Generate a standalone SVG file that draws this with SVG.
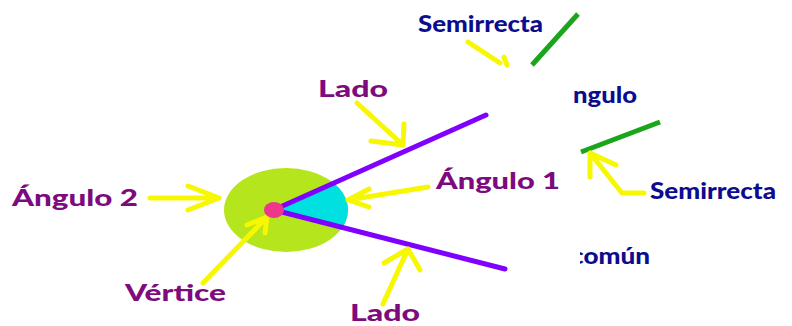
<svg xmlns="http://www.w3.org/2000/svg" width="792" height="326" viewBox="0 0 792 326">
<style>
.t{font-family:"Lato","Liberation Sans",sans-serif;font-weight:900;font-size:23px}
.p{fill:#7d0b7d}
.n{fill:#0c0c8f}
.y{fill:none;stroke:#f7f700;stroke-width:5;stroke-linecap:round;stroke-linejoin:round}
.g{fill:none;stroke:#1ba51b;stroke-width:5}
.v{fill:none;stroke:#8000ff;stroke-width:5;stroke-linecap:round}
</style>
<defs>
<clipPath id="cc"><rect x="580" y="230" width="100" height="50"/></clipPath>
</defs>
<rect width="792" height="326" fill="#fff"/>
<g id="angle">
<ellipse cx="286" cy="210" rx="62" ry="42" fill="#b5e51d"/>
<path d="M274,210 L334,183.3 A62,42 0 0 1 342.4,227.5 Z" fill="#00e0e0"/>
</g>
<g id="connectors">
<line class="v" x1="278" y1="208" x2="486" y2="115"/>
<line class="v" x1="278" y1="211" x2="505" y2="269"/>
<line class="g" x1="532" y1="65" x2="578" y2="14"/>
<line class="g" x1="581" y1="152" x2="660" y2="122"/>
<path class="y" d="M468,42 L500,63 M504,57 L507,65"/>
<path class="y" d="M357,103 L403,145 M404,124 L403,145 L371,141"/>
<path class="y" d="M428,187 L348,200 M369,189 L348,200 L369,207"/>
<path class="y" d="M150,198 L219,198 M188,186 L219,198 L188,210"/>
<path class="y" d="M203,283 L267,217 M247,225 L267,217 L265,233"/>
<path class="y" d="M383,304 L408,249 M384,263 L408,249 L420,270"/>
<path class="y" d="M644,193 L622,193 L590,153 M590,177 L590,153 L616,165"/>
</g>
<g id="vertex"><ellipse cx="274" cy="210" rx="10" ry="8" fill="#f0368c"/></g>
<g id="labels">
<text class="t n" x="418" y="32" textLength="125" lengthAdjust="spacingAndGlyphs">Semirrecta</text>
<text class="t n" x="573" y="103" textLength="64" lengthAdjust="spacingAndGlyphs">ngulo</text>
<text class="t p" x="318" y="97" textLength="70" lengthAdjust="spacingAndGlyphs">Lado</text>
<text class="t p" x="436" y="189" textLength="124" lengthAdjust="spacingAndGlyphs">Ángulo 1</text>
<text class="t n" x="650" y="199" textLength="126" lengthAdjust="spacingAndGlyphs">Semirrecta</text>
<text class="t n" x="571" y="264" textLength="79" lengthAdjust="spacingAndGlyphs" clip-path="url(#cc)">común</text>
<text class="t p" x="12" y="206" textLength="126" lengthAdjust="spacingAndGlyphs">Ángulo 2</text>
<text class="t p" x="125" y="301" textLength="101" lengthAdjust="spacingAndGlyphs">Vértice</text>
<text class="t p" x="350" y="321" textLength="70" lengthAdjust="spacingAndGlyphs">Lado</text>
</g>
</svg>
